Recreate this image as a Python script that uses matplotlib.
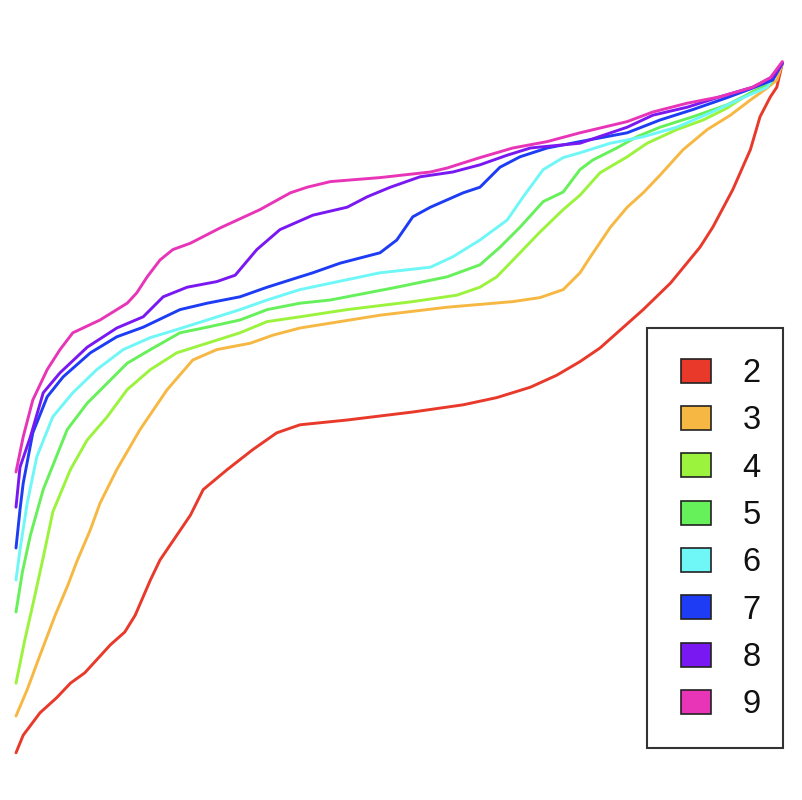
import matplotlib
matplotlib.use("Agg")
import matplotlib.pyplot as plt
from matplotlib.patches import Patch, Rectangle

plt.rcParams["font.family"] = ["Liberation Sans", "DejaVu Sans"]

# sorted profiles, one line per group size k; x = rank, y = score
labels = ["2", "3", "4", "5", "6", "7", "8", "9"]
colors = ["#E8392B", "#F7B843", "#9BF33E", "#66F05A", "#6FF7F7", "#1D3CF4", "#7A18F2", "#E835B8"]

x2 = [0, 0.9, 3, 5.1, 6.8, 8.6, 11.8, 13.6, 14.9, 16.8, 18, 19.9, 21.8, 23.4, 26.4, 29.6, 32.6, 35.5,
      41.4, 49.6, 55.9, 60.1, 64.3, 67.6, 70.5, 73, 78.4, 81.8, 85.5, 87.1, 89.6, 91.8, 93, 94.3, 95.1, 95.8]
y2 = [5.9, 8.1, 10.9, 12.8, 14.6, 15.9, 19.4, 21, 23.1, 27.5, 30, 32.8, 35.6, 38.8, 41.3, 43.8, 45.9, 46.9,
      47.5, 48.5, 49.4, 50.3, 51.6, 53.1, 54.8, 56.5, 61.3, 64.6, 69.1, 71.6, 76.3, 81.3, 85.4, 87.9, 89.1, 92.1]

x3 = [0, 1.4, 3, 4.9, 6.5, 7.6, 9.3, 10.5, 12.6, 15.5, 18.9, 22.1, 25.1, 29.3, 32.1, 35.5, 45.5, 53.9,
      62.1, 65.5, 68.4, 70.5, 71.8, 74.3, 76.4, 78.4, 80.5, 83.4, 86.4, 89.3, 91.8, 93.9, 95.1, 95.8]
y3 = [10.5, 13.8, 18.1, 23.1, 26.9, 29.8, 33.8, 37.1, 41.3, 46.3, 51.3, 55, 56.3, 57.1, 58.1, 59, 60.6, 61.6,
      62.3, 62.8, 63.8, 65.9, 67.9, 71.6, 74.1, 75.9, 78.1, 81.3, 83.8, 85.6, 87.5, 89, 90, 92.1]

x4 = [0, 1.1, 2.1, 3.4, 4.6, 6.8, 8.9, 11.4, 13.9, 16.8, 20.1, 23.9, 28, 31.4, 35.5, 41.4, 49.6, 55.1,
      58, 60.1, 63, 65.5, 68.4, 70.5, 73, 76.4, 78.9, 82.6, 85.9, 88.9, 91.8, 93.9, 95.8]
y4 = [14.6, 20, 24.4, 30.3, 36, 41.3, 45, 47.9, 51.3, 53.8, 55.9, 57.1, 58.4, 59.8, 60.4, 61.3, 62.3, 63.1,
      64.1, 65.4, 68.4, 71, 73.8, 75.6, 78.4, 80.4, 82.1, 83.8, 85, 86.5, 88.4, 89.4, 92.1]

x5 = [0, 0.8, 1.8, 3.4, 6.4, 8.9, 11.4, 13.9, 16.8, 20.5, 23.9, 28, 31.4, 35.5, 39.3, 47.6, 53.9, 58,
      60.5, 63, 65.9, 68.4, 70.5, 72.1, 75.1, 77.6, 80.5, 84.6, 88.9, 92.1, 94.3, 95.8]
y5 = [23.5, 28.5, 33.1, 38.8, 46.3, 49.6, 52.1, 54.6, 56.3, 58.4, 59.1, 60, 61.3, 62.1, 62.5, 64.1, 65.4, 66.9,
      69.1, 71.6, 74.8, 76, 78.8, 80, 81.5, 82.9, 84.1, 85.4, 86.9, 88.5, 89.6, 92.1]

x6 = [0, 0.5, 1.4, 2.6, 4.6, 7.1, 10.1, 13.4, 16.8, 20.1, 23.9, 28, 31.4, 35.5, 39.3, 45.5, 51.8, 54.6,
      58, 61.4, 63.4, 65.9, 68.4, 70.5, 74.3, 78.4, 82.6, 86.8, 90.9, 93.9, 95.8]
y6 = [27.5, 31.3, 37.1, 42.9, 47.9, 50.9, 53.8, 56.3, 57.8, 58.8, 60, 61.3, 62.5, 63.8, 64.6, 65.9, 66.6, 67.9,
      70, 72.5, 75.4, 78.8, 80.3, 80.9, 82.1, 82.9, 84.1, 85.9, 87.8, 89.1, 92.1]

x7 = [0, 0.5, 0.9, 2.1, 3.9, 5.9, 9.3, 12.6, 15.9, 20.5, 23.9, 28, 31.4, 35.5, 37.1, 40.5, 45.5, 47.6,
      49.6, 51.8, 55.9, 58, 60.5, 63, 66.4, 70.5, 76.4, 80.5, 84.6, 88.9, 92.1, 94.6, 95.8]
y7 = [31.5, 36.3, 39.6, 45.9, 50.4, 52.9, 55.9, 57.9, 59.1, 61.3, 62.1, 62.9, 64.1, 65.4, 65.9, 67.1, 68.4, 70,
      72.9, 74.1, 75.9, 76.6, 79.1, 80.4, 81.5, 82.3, 83.4, 85, 86.3, 87.8, 89, 90, 92.1]

x8 = [0, 0.5, 1.8, 3.4, 5.5, 8.9, 12.6, 15.9, 18.4, 21.4, 25.1, 27.4, 30.1, 33, 37.1, 41.4, 43.9, 46.8,
      50.5, 54.6, 58, 61.4, 64.3, 70.5, 76.4, 79.6, 83.9, 88, 92.1, 94.6, 95.8]
y8 = [36.6, 41.6, 45.4, 50.9, 53.4, 56.6, 59, 60.4, 62.9, 64.1, 64.8, 65.6, 68.8, 71.3, 73.1, 74.1, 75.4, 76.6,
      77.9, 78.5, 79.4, 80.6, 81.5, 82.1, 84.1, 85.6, 86.6, 87.9, 89.1, 90.4, 92.1]

x9 = [0, 0.9, 2.1, 3.9, 5.5, 7.1, 10.5, 13.9, 15.1, 16.4, 18, 19.6, 21.8, 25.5, 30.5, 34.3, 36.4, 39.3,
      45.5, 51.8, 53.9, 58, 62.1, 66.4, 70.5, 76.4, 79.6, 83.9, 88, 92.1, 94.3, 95.8]
y9 = [41, 45.4, 50, 53.8, 56.3, 58.4, 60, 62.1, 63.4, 65.4, 67.5, 68.8, 69.6, 71.5, 73.8, 75.9, 76.6, 77.3,
      77.8, 78.5, 79, 80.3, 81.5, 82.3, 83.4, 84.8, 86, 87.1, 87.9, 89.1, 90.3, 92.3]

xs = [x2, x3, x4, x5, x6, x7, x8, x9]
ys = [y2, y3, y4, y5, y6, y7, y8, y9]

fig = plt.figure(figsize=(8.02, 8.0), dpi=100)
ax = fig.add_axes([0, 0, 1, 1])

for x, y, c in zip(xs, ys, colors):
    ax.plot(x, y, color=c, linewidth=2.1, solid_capstyle="round", solid_joinstyle="round")

ax.set_xlim(-2, 98.25)
ax.set_ylim(0, 100)
ax.axis("off")

# legend box drawn by hand so the padding can be uneven like the original
fig.patches.append(Rectangle((0.807, 0.065), 0.169, 0.525, transform=fig.transFigure,
                             facecolor="white", edgecolor="#333333", linewidth=1.5, zorder=5))

handles = [Patch(facecolor=c, edgecolor="#222222", linewidth=1.2, label=l) for c, l in zip(colors, labels)]
leg = fig.legend(handles=handles, loc="center", bbox_to_anchor=(0.899, 0.326),
                 bbox_transform=fig.transFigure, fontsize=23.5, frameon=False,
                 handlelength=0.9, handleheight=0.76, handletextpad=0.98, labelspacing=0.5,
                 borderpad=0, borderaxespad=0)
leg.set_zorder(6)
for t in leg.get_texts():
    t.set_color("#111111")

fig.savefig("out.png", dpi=100)
